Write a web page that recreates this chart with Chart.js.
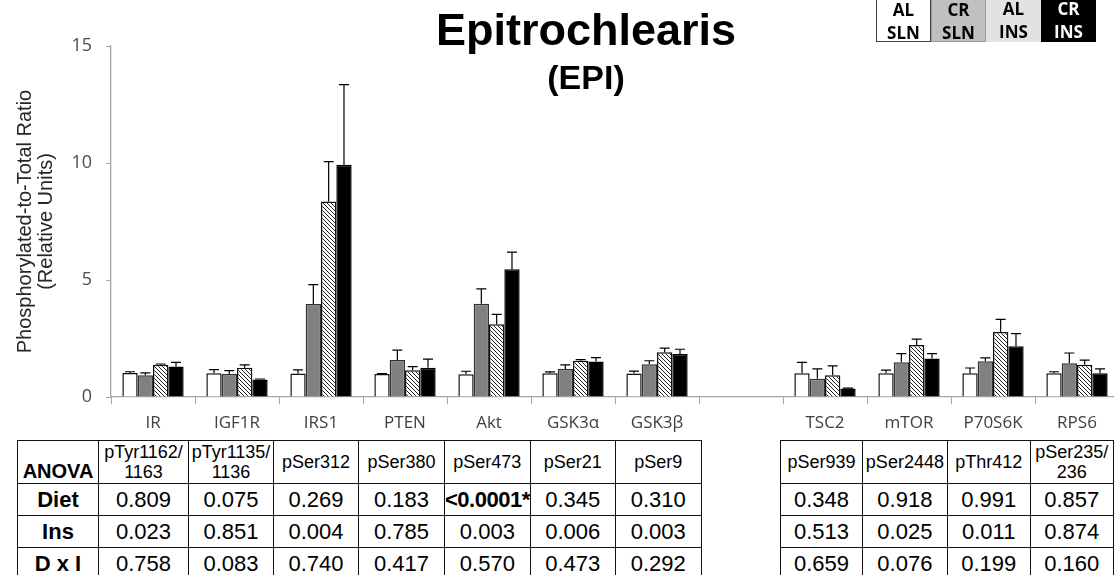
<!DOCTYPE html>
<html>
<head>
<meta charset="utf-8">
<script src="https://cdn.jsdelivr.net/npm/chart.js@4.4.0/dist/chart.umd.min.js"></script>
<style>
  html, body { margin: 0; padding: 0; background: #fff; overflow: hidden; width: 1114px; height: 575px; }
  #wrap { position: relative; width: 1114px; height: 575px; }
  #grafico { position: absolute; left: 0; top: 0; }
  .titulo { position: absolute; left: 386px; width: 400px; text-align: center; font-family: "Liberation Sans", Arial, sans-serif; font-weight: bold; color: #000; }
  #t1 { top: 4px; font-size: 45px; }
  #t2 { top: 58px; font-size: 34px; }
  #legenda { position: absolute; left: 876px; top: -3px; display: flex; font-family: "Open Sans", sans-serif; font-weight: bold; font-size: 17px; line-height: 23px; }
  #legenda div { width: 55px; height: 45px; text-align: center; box-sizing: border-box; }
  table.anova { position: absolute; top: 440px; border-collapse: collapse; table-layout: fixed; font-family: "Liberation Sans", Arial, sans-serif; color: #000; }
  table.anova td { border: 1.5px solid #111; text-align: center; padding: 0; white-space: nowrap; overflow: hidden; }
  table.anova tr.cab td { height: 42px; font-size: 18px; line-height: 20px; }
  table.anova tr.val td { height: 31px; font-size: 22px; }
  table.anova td.rot { font-weight: bold; font-size: 20px; }
  table.anova tr.cab td.rot { vertical-align: bottom; font-size: 20px; line-height: 24px; }
  table.anova td.b { font-weight: bold; letter-spacing: -0.5px; }
</style>
</head>
<body>
<div id="wrap">
  <canvas id="grafico" width="1119" height="440"></canvas>
  <div class="titulo" id="t1">Epitrochlearis</div>
  <div class="titulo" id="t2">(EPI)</div>
  <div id="legenda"></div>
  <table class="anova" id="tabEsq" style="left:17px"></table>
  <table class="anova" id="tabDir" style="left:780px"></table>
</div>
<script>
// categorias do eixo x (a vazia separa os dois grupos)
const categorias = ['IR', 'IGF1R', 'IRS1', 'PTEN', 'Akt', 'GSK3α', 'GSK3β', '', 'TSC2', 'mTOR', 'P70S6K', 'RPS6'];
const grupos = ['AL SLN', 'CR SLN', 'AL INS', 'CR INS'];

// médias (unidades relativas)
const alSln = [1.03, 1.01, 1.00, 0.98, 0.97, 1.01, 1.00, null, 1.01, 1.01, 1.01, 1.01];
const crSln = [0.93, 0.98, 3.97, 1.58, 3.99, 1.20, 1.40, null, 0.78, 1.48, 1.53, 1.44];
const alIns = [1.38, 1.25, 8.35, 1.14, 3.11, 1.55, 1.91, null, 0.93, 2.22, 2.78, 1.38];
const crIns = [1.30, 0.75, 9.93, 1.25, 5.46, 1.52, 1.84, null, 0.36, 1.64, 2.17, 1.01];

// erro padrão (só a barra de cima)
const semAlSln = [0.05, 0.16, 0.16, 0.02, 0.13, 0.06, 0.11, null, 0.47, 0.14, 0.23, 0.07];
const semCrSln = [0.10, 0.15, 0.83, 0.42, 0.63, 0.17, 0.15, null, 0.42, 0.37, 0.14, 0.44];
const semAlIns = [0.03, 0.12, 1.71, 0.16, 0.42, 0.05, 0.18, null, 0.40, 0.25, 0.54, 0.20];
const semCrIns = [0.18, 0.02, 3.42, 0.37, 0.73, 0.16, 0.20, null, 0.02, 0.21, 0.54, 0.19];

const ticksY = [0, 5, 10, 15];

// tabela ANOVA
const sitiosEsq = [['pTyr1162/', '1163'], ['pTyr1135/', '1136'], ['pSer312'], ['pSer380'], ['pSer473'], ['pSer21'], ['pSer9']];
const dietEsq = ['0.809', '0.075', '0.269', '0.183', '<0.0001*', '0.345', '0.310'];
const insEsq = ['0.023', '0.851', '0.004', '0.785', '0.003', '0.006', '0.003'];
const dxiEsq = ['0.758', '0.083', '0.740', '0.417', '0.570', '0.473', '0.292'];

const sitiosDir = [['pSer939'], ['pSer2448'], ['pThr412'], ['pSer235/', '236']];
const dietDir = ['0.348', '0.918', '0.991', '0.857'];
const insDir = ['0.513', '0.025', '0.011', '0.874'];
const dxiDir = ['0.659', '0.076', '0.199', '0.160'];

function hachura() {
  const c = document.createElement('canvas');
  c.width = 4; c.height = 4;
  const g = c.getContext('2d');
  g.fillStyle = '#fff';
  g.fillRect(0, 0, 4, 4);
  g.strokeStyle = '#222';
  g.lineWidth = 1;
  g.beginPath();
  g.moveTo(-1, -1); g.lineTo(5, 5);
  g.moveTo(-1, 3); g.lineTo(1, 5);
  g.moveTo(3, -1); g.lineTo(5, 1);
  g.stroke();
  return g.createPattern(c, 'repeat');
}

const barrasErro = {
  id: 'barrasErro',
  afterDatasetsDraw(chart) {
    const { ctx, scales: { y } } = chart;
    ctx.save();
    ctx.strokeStyle = '#000';
    ctx.lineWidth = 1.2;
    chart.data.datasets.forEach((ds, i) => {
      chart.getDatasetMeta(i).data.forEach((bar, j) => {
        const v = ds.data[j], e = ds.sem[j];
        if (v == null || e == null) return;
        const yTopo = y.getPixelForValue(v + e);
        ctx.beginPath();
        ctx.moveTo(bar.x, bar.y);
        ctx.lineTo(bar.x, yTopo);
        ctx.moveTo(bar.x - 5, yTopo);
        ctx.lineTo(bar.x + 5, yTopo);
        ctx.stroke();
      });
    });
    ctx.restore();
  }
};

const estilo = [
  { bg: '#ffffff', borda: '#111' },
  { bg: '#808080', borda: '#333' },
  { bg: hachura(), borda: '#111' },
  { bg: '#000000', borda: '#000' }
];
const medias = [alSln, crSln, alIns, crIns];
const sems = [semAlSln, semCrSln, semAlIns, semCrIns];

new Chart(document.getElementById('grafico').getContext('2d'), {
  type: 'bar',
  data: {
    labels: categorias,
    datasets: grupos.map((g, i) => ({
      label: g,
      data: medias[i],
      sem: sems[i],
      backgroundColor: estilo[i].bg,
      borderColor: estilo[i].borda,
      borderWidth: 1.5,
      categoryPercentage: 0.73,
      barPercentage: 1
    }))
  },
  options: {
    responsive: false,
    animation: false,
    layout: { padding: { top: 46, left: 0, right: 0, bottom: 0 } },
    plugins: { legend: { display: false }, tooltip: { enabled: false } },
    scales: {
      x: {
        afterFit: s => { s.height = 43; },
        grid: { drawOnChartArea: false, tickLength: 7, color: '#a6a6a6' },
        border: { color: '#a6a6a6', width: 1.3 },
        ticks: { font: { family: 'Open Sans', size: 17 }, color: '#404040', padding: 9, maxRotation: 0, autoSkip: false }
      },
      y: {
        min: 0,
        max: 15,
        afterFit: s => { s.width = 111; },
        afterBuildTicks: s => { s.ticks = ticksY.map(v => ({ value: v })); },
        grid: { drawOnChartArea: false, tickLength: 5, color: '#a6a6a6' },
        border: { color: '#a6a6a6', width: 1.3 },
        ticks: { font: { family: 'Open Sans', size: 18 }, color: '#4d4d4d', padding: 14 },
        title: {
          display: true,
          text: ['Phosphorylated-to-Total Ratio', '(Relative Units)'],
          font: { family: 'Liberation Sans', size: 20, lineHeight: 1.05 },
          color: '#262626',
          padding: { top: 15, bottom: 0 }
        }
      }
    }
  },
  plugins: [barrasErro]
});

// legenda no canto
const corLeg = [['#fff', '#000'], ['#c0c0c0', '#000'], ['#e2e2e2', '#000'], ['#000', '#fff']];
const leg = document.getElementById('legenda');
grupos.forEach((g, i) => {
  const d = document.createElement('div');
  d.style.background = corLeg[i][0];
  d.style.color = corLeg[i][1];
  if (i === 0) d.style.border = '1.5px solid #444';
  if (i === 1) d.style.border = '1.5px solid #999';
  d.innerHTML = g.split(' ').join('<br>');
  leg.appendChild(d);
});

function montaTabela(id, larguras, sitios, diet, ins, dxi, comRotulo) {
  const t = document.getElementById(id);
  let html = '<colgroup>' + larguras.map(w => `<col style="width:${w}px">`).join('') + '</colgroup>';
  html += '<tr class="cab">' + (comRotulo ? '<td class="rot">ANOVA</td>' : '') +
    sitios.map(s => `<td>${s.join('<br>')}</td>`).join('') + '</tr>';
  const linhas = [['Diet', diet], ['Ins', ins], ['D x I', dxi]];
  linhas.forEach(([nome, vals]) => {
    html += '<tr class="val">' + (comRotulo ? `<td class="rot">${nome}</td>` : '') +
      vals.map(v => `<td${v.startsWith('<') ? ' class="b"' : ''}>${v.replace('<', '&lt;')}</td>`).join('') + '</tr>';
  });
  t.innerHTML = html;
}

montaTabela('tabEsq', [81, 90, 85, 85, 86, 85, 85, 86], sitiosEsq, dietEsq, insEsq, dxiEsq, true);
montaTabela('tabDir', [84, 86, 85, 85], sitiosDir, dietDir, insDir, dxiDir, false);
</script>
</body>
</html>
